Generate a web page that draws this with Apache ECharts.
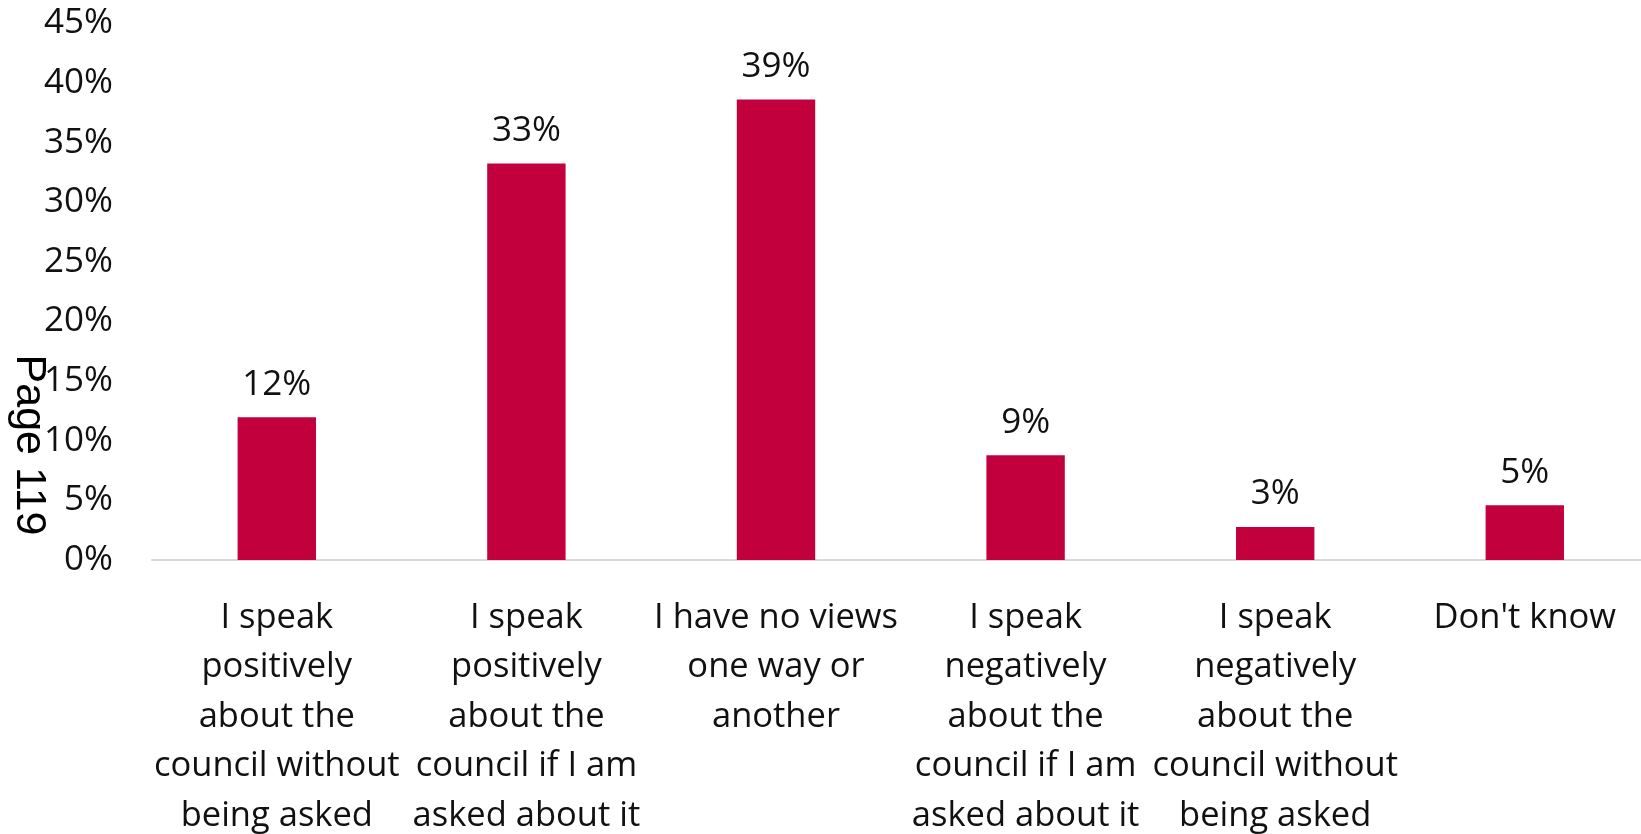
<!DOCTYPE html>
<html>
<head>
<meta charset="utf-8">
<title>Speaking about the council</title>
<script src="https://cdn.jsdelivr.net/npm/echarts@6/dist/echarts.min.js"></script>
<style>
  html, body { margin: 0; padding: 0; background: #ffffff; overflow: hidden; }
  #chart { width: 1641px; height: 834px; }
</style>
</head>
<body>
<div id="chart"></div>
<script>
// Response categories (line breaks as shown under each bar)
const categories = [
  'I speak\npositively\nabout the\ncouncil without\nbeing asked',
  'I speak\npositively\nabout the\ncouncil if I am\nasked about it',
  'I have no views\none way or\nanother',
  'I speak\nnegatively\nabout the\ncouncil if I am\nasked about it',
  'I speak\nnegatively\nabout the\ncouncil without\nbeing asked',
  "Don't know"
];

// Share of respondents (%)
const shares = [11.96, 33.25, 38.62, 8.78, 2.77, 4.59];

// Value axis ticks (%)
const yMin = 0;
const yMax = 45;
const yStep = 5;

const pageLabel = 'Page 119';

const FONT = '"Open Sans", "Noto Sans", sans-serif';
const TEXT = '#111111';
const BAR = '#C3003E';

const chart = echarts.init(document.getElementById('chart'), null, { renderer: 'canvas' });

chart.setOption({
  animation: false,
  backgroundColor: '#ffffff',
  // plot area runs slightly past the right edge and labels reach the bottom edge
  grid: {
    left: 152, width: 1497.6, top: 23.3, height: 536.7,
    containLabel: false,
    outerBoundsMode: 'none'
  },
  xAxis: {
    type: 'category',
    data: categories,
    axisLine: { show: true, lineStyle: { color: '#D9D9D9', width: 2 } },
    axisTick: { show: false },
    axisLabel: {
      interval: 0,
      margin: 33,
      color: TEXT,
      fontFamily: FONT,
      fontSize: 34.5,
      lineHeight: 49.5,
      align: 'center',
      hideOverlap: false
    },
    splitLine: { show: false }
  },
  yAxis: {
    type: 'value',
    min: yMin,
    max: yMax,
    interval: yStep,
    axisLine: { show: false },
    axisTick: { show: false },
    splitLine: { show: false },
    axisLabel: {
      margin: 39,
      color: TEXT,
      fontFamily: FONT,
      fontSize: 35,
      formatter: v => v + '%'
    }
  },
  series: [{
    type: 'bar',
    data: shares,
    barWidth: '31.4%',
    itemStyle: { color: BAR },
    label: {
      show: true,
      position: 'top',
      distance: 15,
      color: TEXT,
      fontFamily: FONT,
      fontSize: 35,
      formatter: p => Math.round(p.value) + '%'
    }
  }],
  graphic: [{
    type: 'text',
    x: 28.5,
    y: 445,
    rotation: -Math.PI / 2,
    style: {
      text: pageLabel,
      fill: '#000000',
      font: '43px "Liberation Sans", Arial, sans-serif',
      align: 'center',
      verticalAlign: 'middle'
    }
  }]
});
</script>
</body>
</html>
